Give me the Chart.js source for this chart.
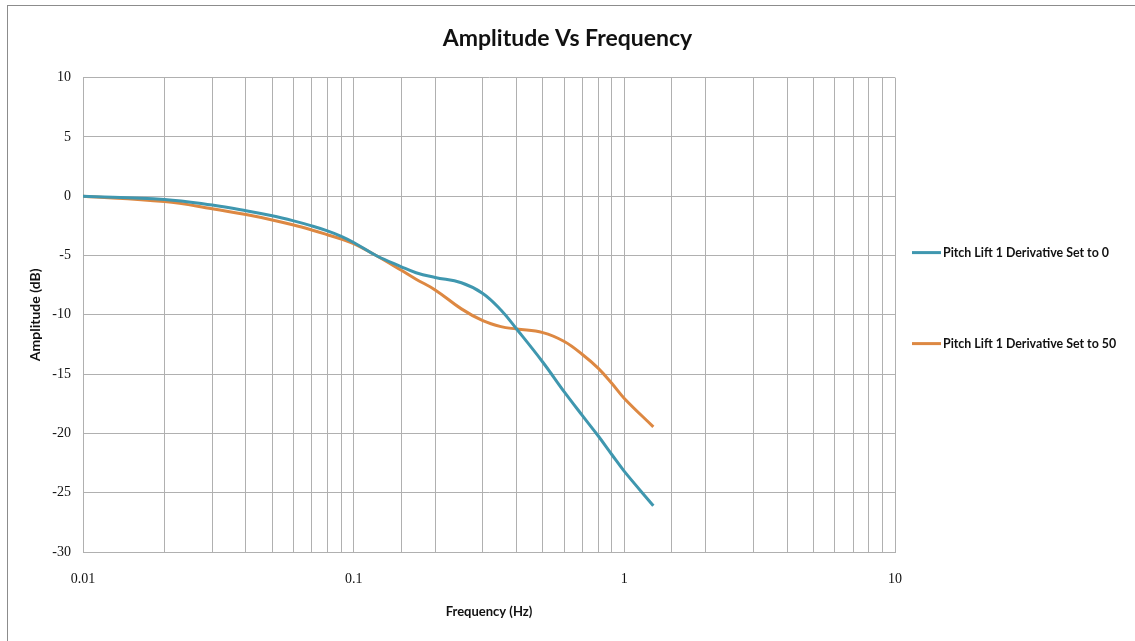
<!DOCTYPE html>
<html>
<head>
<meta charset="utf-8">
<title>Amplitude Vs Frequency</title>
<script src="https://cdn.jsdelivr.net/npm/chart.js@4"></script>
<style>
  html, body { margin: 0; padding: 0; background: #fff; overflow: hidden; }
  #wrap { position: relative; width: 1135px; height: 641px; }
  #frame { position: absolute; left: 7px; top: 5px; width: 1200px; height: 700px;
           border: 1px solid #8c8c8c; pointer-events: none; }
</style>
</head>
<body>
<div id="wrap">
  <canvas id="ampChart" width="1135" height="641"></canvas>
  <div id="frame"></div>
</div>
<script>
  // data
  const freqs = [0.01, 0.02, 0.03, 0.04, 0.05, 0.06, 0.07, 0.08, 0.09, 0.1, 0.121, 0.15, 0.17,
                 0.2, 0.25, 0.3, 0.35, 0.4, 0.5, 0.6, 0.7, 0.8, 0.9, 1.0, 1.28];
  const derivSet0 = [0, -0.27, -0.75, -1.22, -1.65, -2.08, -2.5, -2.92, -3.38, -3.9, -5.0, -5.95, -6.45,
                     -6.85, -7.3, -8.2, -9.6, -11.2, -14.0, -16.5, -18.5, -20.2, -21.8, -23.2, -26.1];
  const derivSet50 = [0, -0.45, -1.05, -1.55, -2.0, -2.43, -2.85, -3.25, -3.62, -4.0, -5.0, -6.25, -7.0,
                      -7.9, -9.5, -10.5, -11.0, -11.2, -11.5, -12.25, -13.35, -14.5, -15.8, -17.05, -19.45];
  const seriesNames = ['Pitch Lift 1 Derivative Set to 0', 'Pitch Lift 1 Derivative Set to 50'];
  const xTickValues = [0.01, 0.1, 1, 10];
  const xTickLabels = ['0.01', '0.1', '1', '10'];

  const gridColor = '#b0b0b0';
  const calibriLike = 'Lato, "Open Sans", sans-serif';
  const serifFont = '"Liberation Serif", "DejaVu Serif", serif';

  function toPoints(ys) {
    return freqs.map((f, i) => ({ x: f, y: ys[i] }));
  }

  // legend drawn to the right like the excel one
  const sideLegend = {
    id: 'sideLegend',
    afterDraw(chart) {
      const ctx = chart.ctx;
      const area = chart.chartArea;
      const x0 = area.right + 17;
      ctx.save();
      ctx.font = 'bold 12.4px ' + calibriLike;
      ctx.textBaseline = 'middle';
      ctx.textAlign = 'left';
      chart.data.datasets.forEach((ds, i) => {
        const y = area.top + 175 + i * 91;
        ctx.strokeStyle = ds.borderColor;
        ctx.lineWidth = 3;
        ctx.beginPath();
        ctx.moveTo(x0, y);
        ctx.lineTo(x0 + 29, y);
        ctx.stroke();
        ctx.fillStyle = '#111';
        ctx.fillText(ds.label, x0 + 31, y);
      });
      ctx.restore();
    }
  };

  const ctx = document.getElementById('ampChart').getContext('2d');
  new Chart(ctx, {
    type: 'line',
    data: {
      datasets: [{
        label: seriesNames[0],
        data: toPoints(derivSet0),
        borderColor: '#3f97af',
        borderWidth: 3,
        pointRadius: 0,
        tension: 0.4,
        fill: false
      }, {
        label: seriesNames[1],
        data: toPoints(derivSet50),
        borderColor: '#dd8842',
        borderWidth: 3,
        pointRadius: 0,
        tension: 0.4,
        fill: false
      }]
    },
    options: {
      responsive: false,
      animation: false,
      layout: { padding: 0 },
      plugins: {
        legend: { display: false },
        tooltip: { enabled: false },
        title: {
          display: true,
          text: 'Amplitude Vs Frequency',
          color: '#111',
          font: { family: calibriLike, size: 23, weight: 'bold' },
          padding: { top: 25, bottom: 25 }
        }
      },
      scales: {
        x: {
          type: 'logarithmic',
          min: 0.01,
          max: 10,
          grid: { color: gridColor, lineWidth: 1, drawTicks: false },
          border: { color: gridColor },
          ticks: {
            autoSkip: false,
            maxRotation: 0,
            padding: 19,
            color: '#111',
            font: { family: serifFont, size: 14 },
            callback: function (value) {
              const idx = xTickValues.findIndex(t => Math.abs(t - value) < t * 1e-6);
              return idx >= 0 ? xTickLabels[idx] : '';
            }
          },
          title: {
            display: true,
            text: 'Frequency (Hz)',
            color: '#111',
            font: { family: calibriLike, size: 13, weight: 'bold' },
            padding: { top: 0, bottom: 21 }
          },
          afterFit: function (scale) { scale.height = 89; }
        },
        y: {
          min: -30,
          max: 10,
          ticks: {
            stepSize: 5,
            padding: 12,
            color: '#111',
            font: { family: serifFont, size: 14 }
          },
          grid: { color: gridColor, lineWidth: 1, drawTicks: false },
          border: { color: gridColor },
          title: {
            display: true,
            text: 'Amplitude (dB)',
            color: '#111',
            font: { family: calibriLike, size: 14, weight: 'bold' },
            padding: { top: 27, bottom: 0 }
          },
          afterFit: function (scale) { scale.width = 83; }
        },
        // empty axis that keeps the room for the legend on the right
        yLegendRoom: {
          position: 'right',
          min: 0,
          max: 1,
          grid: { display: false, drawTicks: false },
          border: { display: false },
          ticks: { display: false },
          afterFit: function (scale) { scale.width = 240; }
        }
      }
    },
    plugins: [sideLegend]
  });
</script>
</body>
</html>
